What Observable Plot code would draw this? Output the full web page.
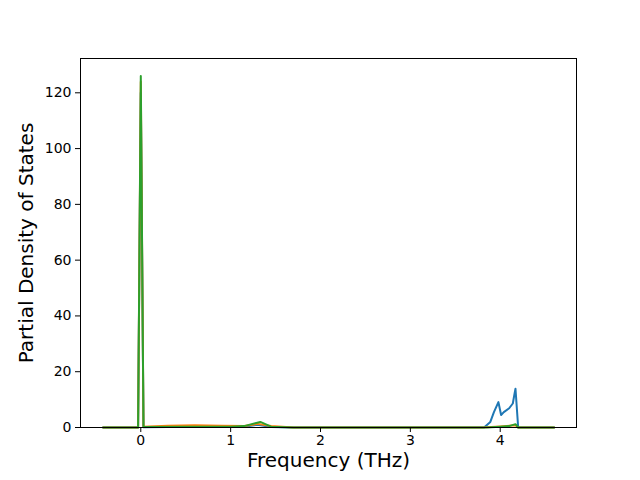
<!DOCTYPE html>
<html>
<head>
<meta charset="utf-8">
<script src="https://cdn.jsdelivr.net/npm/d3@7"></script>
<script src="https://cdn.jsdelivr.net/npm/@observablehq/plot@0.6"></script>
<style>
  body { margin: 0; background: #fff; }
  svg { font-family: "DejaVu Sans", sans-serif; }
</style>
</head>
<body>
<div id="chart"></div>
<script>
// Series 1 (blue)
const freqBlue = [-0.42, -0.03, 0, 0.03, 0.3, 0.9, 1.15, 1.3, 1.45, 1.7, 3.82, 3.89, 3.93, 3.98, 4.01, 4.04, 4.1, 4.14, 4.16, 4.17, 4.2, 4.6];
const dosBlue  = [0, 0, 120, 0.1, 0.2, 0.2, 0.3, 1.0, 0.2, 0, 0, 2, 5.5, 9.1, 4.5, 5.5, 6.9, 8.6, 12.2, 13.9, 0, 0];
// Series 2 (orange)
const freqOrange = [-0.42, -0.03, 0, 0.03, 0.3, 0.6, 0.9, 1.15, 1.3, 1.45, 1.7, 3.8, 4.0, 4.17, 4.2, 4.6];
const dosOrange  = [0, 0, 124, 0.3, 0.6, 0.8, 0.6, 0.5, 1.3, 0.5, 0, 0, 0.4, 0.8, 0, 0];
// Series 3 (green)
const freqGreen = [-0.42, -0.03, 0, 0.03, 0.5, 1.0, 1.15, 1.33, 1.45, 1.7, 3.85, 4.0, 4.1, 4.17, 4.2, 4.6];
const dosGreen  = [0, 0, 126, 0.2, 0.3, 0.3, 0.5, 2.0, 0.3, 0, 0, 0.3, 0.5, 1.2, 0, 0];

const xTicks = [0, 1, 2, 3, 4];
const yTicks = [0, 20, 40, 60, 80, 100, 120];
const xLabel = "Frequency (THz)";
const yLabel = "Partial Density of States";

const series = [
  {name: "blue", color: "#1f77b4", x: freqBlue, y: dosBlue},
  {name: "orange", color: "#ff7f0e", x: freqOrange, y: dosOrange},
  {name: "green", color: "#2ca02c", x: freqGreen, y: dosGreen}
];

const rows = series.map(s => s.x.map((f, i) => ({series: s.name, f, d: s.y[i]})));

const chart = Plot.plot({
  width: 640,
  height: 480,
  marginLeft: 80,
  marginRight: 64,
  marginTop: 58,
  marginBottom: 53,
  style: {background: "#fff", fontFamily: "DejaVu Sans, sans-serif", color: "#000"},
  x: {domain: [-0.671, 4.849]},
  y: {domain: [0, 132.3]},
  marks: [
    ...rows.map((r, k) => Plot.line(r, {x: "f", y: "d", stroke: series[k].color, strokeWidth: 2, curve: "linear"})),
    Plot.frame({stroke: "#000", strokeWidth: 1}),
    Plot.axisX({ticks: xTicks, tickSize: 5, tickPadding: 3, fontSize: 14, label: null, tickFormat: d => String(d)}),
    Plot.axisY({ticks: yTicks, tickSize: 5, tickPadding: 4, fontSize: 14, label: null, tickFormat: d => String(d)}),
    Plot.text([xLabel], {text: d => d, frameAnchor: "bottom", dy: 39, fontSize: 20, fill: "#000", textAnchor: "middle"}),
    Plot.text([yLabel], {text: d => d, frameAnchor: "left", dx: -54, rotate: -90, fontSize: 20, fill: "#000", textAnchor: "middle"})
  ]
});
document.getElementById("chart").appendChild(chart);
</script>
</body>
</html>
